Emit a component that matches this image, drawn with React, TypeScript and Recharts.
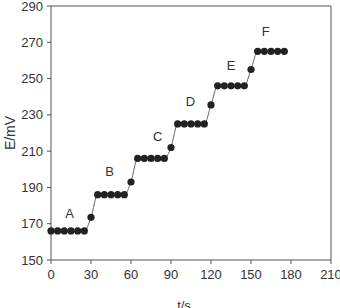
import React from 'react';
import { ComposedChart, Line, XAxis, YAxis, ReferenceDot, ReferenceLine } from 'recharts';

const times = [0, 5, 10, 15, 20, 25, 30, 35, 40, 45, 50, 55, 60, 65, 70, 75, 80, 85, 90, 95, 100, 105, 110, 115, 120, 125, 130, 135, 140, 145, 150, 155, 160, 165, 170, 175];
const potentials = [166, 166, 166, 166, 166, 166, 173.5, 186, 186, 186, 186, 186, 193, 206, 206, 206, 206, 206, 212, 225, 225, 225, 225, 225, 235.5, 246, 246, 246, 246, 246, 255, 265, 265, 265, 265, 265];

const stepNames = ['A', 'B', 'C', 'D', 'E', 'F'];
const stepLabelT = [14, 44, 80, 104.5, 135, 161];
const stepLabelE = [175.5, 199, 218, 237.5, 257, 276];

const xTicks = [0, 30, 60, 90, 120, 150, 180, 210];
const yTicks = [150, 170, 190, 210, 230, 250, 270, 290];

const data = times.map((t, i) => ({ t, e: potentials[i] }));

const axisColor = '#555';
const textColor = '#333';
const font = 'Liberation Sans, Arial, sans-serif';

export default function App() {
  return (
    <div style={{ position: 'absolute', left: 0, top: 0, width: 340, height: 308, background: '#fff' }}>
      <ComposedChart width={340} height={308} data={data} margin={{ top: 6, right: 9, bottom: 0, left: 0 }}>
        <XAxis
          dataKey="t"
          type="number"
          domain={[0, 210]}
          ticks={xTicks}
          interval={0}
          stroke={axisColor}
          tickSize={4}
          tickMargin={6}
          height={48}
          tick={{ fill: textColor, fontSize: 13, fontFamily: font }}
          label={{ value: 't/s', position: 'insideBottom', offset: -2, dx: -7, fill: textColor, fontSize: 13, fontFamily: font }}
        />
        <YAxis
          type="number"
          domain={[150, 290]}
          ticks={yTicks}
          interval={0}
          stroke={axisColor}
          tickSize={4}
          tickMargin={4}
          width={51}
          tick={{ fill: textColor, fontSize: 13, fontFamily: font }}
          label={{ value: 'E/mV', angle: -90, position: 'insideLeft', offset: 10, style: { textAnchor: 'middle' }, fill: textColor, fontSize: 14, fontFamily: font }}
        />
        <ReferenceLine y={290} stroke={axisColor} strokeWidth={1} />
        <ReferenceLine x={210} stroke={axisColor} strokeWidth={1} />
        <Line
          dataKey="e"
          type="monotone"
          stroke="#666"
          strokeWidth={1}
          dot={{ r: 3.6, fill: '#222', stroke: '#222', strokeWidth: 0 }}
          isAnimationActive={false}
        />
        {stepNames.map((name, i) => (
          <ReferenceDot
            key={name}
            x={stepLabelT[i]}
            y={stepLabelE[i]}
            r={0}
            fill="none"
            stroke="none"
            label={{ value: name, position: 'center', fill: textColor, fontSize: 13, fontFamily: font }}
          />
        ))}
      </ComposedChart>
    </div>
  );
}
